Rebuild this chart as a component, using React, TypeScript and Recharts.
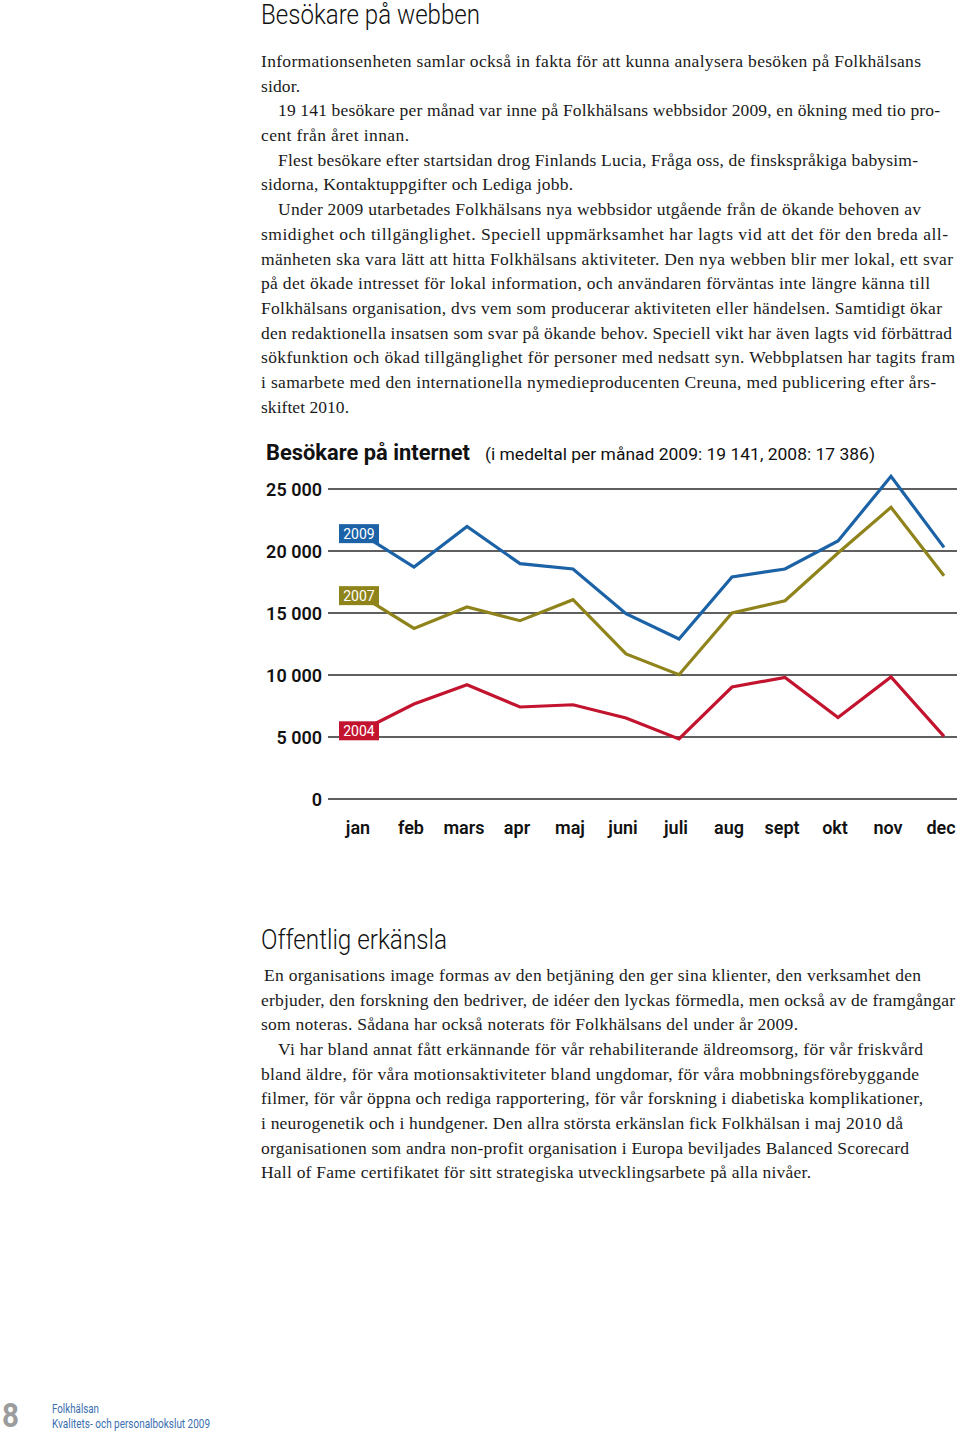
import React from 'react';
import { LineChart, Line, XAxis, YAxis, ReferenceLine, LabelList } from 'recharts';

// ---- chart data ----
const months = ['jan', 'feb', 'mars', 'apr', 'maj', 'juni', 'juli', 'aug', 'sept', 'okt', 'nov', 'dec'];
const visitors2009 = [21400, 18710, 21985, 18980, 18550, 14945, 12900, 17900, 18550, 20810, 26020, 20290];
const visitors2007 = [16400, 13760, 15485, 14380, 16070, 11695, 10025, 15000, 15990, 19840, 23520, 18010];
const visitors2004 = [5500, 7660, 9220, 7420, 7600, 6530, 4840, 9030, 9805, 6580, 9840, 5050];
const yTicks = [0, 5000, 10000, 15000, 20000, 25000];
const seriesNames = ['2009', '2007', '2004'];
const seriesColors = ['#1b62a6', '#8f831b', '#c2142f'];

const data = months.map((m, i) => ({
  month: m,
  v2009: visitors2009[i],
  v2007: visitors2007[i],
  v2004: visitors2004[i],
}));

// ---- page text ----
const heading1 = 'Besökare på webben';
const heading2 = 'Offentlig erkänsla';
const chartTitle = 'Besökare på internet';
const chartSubtitle = '(i medeltal per månad 2009: 19 141,  2008: 17 386)';

type TL = [number, number, number, string];
const para1: TL[] = [
  [261, 62, 921, 'Informationsenheten samlar också in fakta för att kunna analysera besöken på Folkhälsans'],
  [261, 87, 300, 'sidor.'],
  [278, 111, 940, '19 141 besökare per månad var inne på Folkhälsans webbsidor 2009, en ökning med tio pro-'],
  [261, 136, 409, 'cent från året innan.'],
  [278, 161, 918, 'Flest besökare efter startsidan drog Finlands Lucia, Fråga oss, de finskspråkiga babysim-'],
  [261, 185, 573, 'sidorna, Kontaktuppgifter och Lediga jobb.'],
  [278, 210, 921, 'Under 2009 utarbetades Folkhälsans nya webbsidor utgående från de ökande behoven av'],
  [261, 235, 948, 'smidighet och tillgänglighet. Speciell uppmärksamhet har lagts vid att det för den breda all-'],
  [261, 260, 953, 'mänheten ska vara lätt att hitta Folkhälsans aktiviteter. Den nya webben blir mer lokal, ett svar'],
  [261, 284, 930, 'på det ökade intresset för lokal information, och användaren förväntas inte längre känna till'],
  [261, 309, 942, 'Folkhälsans organisation, dvs vem som producerar aktiviteten eller händelsen. Samtidigt ökar'],
  [261, 334, 952, 'den redaktionella insatsen som svar på ökande behov. Speciell vikt har även lagts vid förbättrad'],
  [261, 358, 955, 'sökfunktion och ökad tillgänglighet för personer med nedsatt syn.  Webbplatsen har tagits fram'],
  [261, 383, 936, 'i samarbete med den internationella nymedieproducenten Creuna, med publicering efter års-'],
  [261, 408, 349, 'skiftet 2010.'],
];
const para2: TL[] = [
  [264, 976, 921, 'En organisations image formas av den betjäning den ger sina klienter, den verksamhet den'],
  [261, 1001, 955, 'erbjuder, den forskning den bedriver, de idéer den lyckas förmedla, men också av de framgångar'],
  [261, 1025, 798, 'som noteras. Sådana har också noterats för Folkhälsans del under år 2009.'],
  [278, 1050, 923, 'Vi har bland annat fått erkännande för vår rehabiliterande äldreomsorg, för vår friskvård'],
  [261, 1075, 919, 'bland äldre, för våra motionsaktiviteter bland ungdomar, för våra mobbningsförebyggande'],
  [261, 1099, 923, 'filmer, för vår öppna och rediga rapportering, för vår forskning i diabetiska komplikationer,'],
  [261, 1124, 903, 'i neurogenetik och i hundgener. Den allra största erkänslan fick Folkhälsan i maj 2010 då'],
  [261, 1149, 909, 'organisationen som andra non-profit organisation i Europa beviljades Balanced Scorecard'],
  [261, 1173, 811, 'Hall of Fame certifikatet för sitt strategiska utvecklingsarbete på alla nivåer.'],
];

const CHART_FONT = 'Roboto, "Open Sans", sans-serif';
const SERIF = '"Liberation Serif", "DejaVu Serif", serif';

const fmt = (n: number) =>
  n === 0 ? '0' : `${Math.floor(n / 1000)} ${String(n % 1000).padStart(3, '0')}`;

const YTick = (props: any) => {
  const { x, y, payload } = props;
  return (
    <text x={x - 6} y={y + 6.5} textAnchor="end" fontFamily={CHART_FONT} fontWeight={600} fontSize={18} fill="#111">
      {fmt(payload.value)}
    </text>
  );
};

const XTick = (props: any) => {
  const { x, y, payload } = props;
  return (
    <text x={x - 3} y={y + 35} textAnchor="middle" fontFamily={CHART_FONT} fontWeight={600} fontSize={18} fill="#111">
      {payload.value}
    </text>
  );
};

const makeBadge = (name: string, color: string) => (props: any) => {
  const { x, y, index } = props;
  if (index !== 0) return null;
  const cx = x - 2;
  return (
    <g>
      <rect x={cx - 20} y={y - 9.5} width={40} height={19} fill={color} />
      <text x={cx} y={y + 5} textAnchor="middle" fontFamily={CHART_FONT} fontSize={14} fill="#fff">
        {name}
      </text>
    </g>
  );
};

const TextLine = ({ l }: { l: TL }) => (
  <text
    x={l[0]}
    y={l[1] + 5}
    textLength={l[2] - l[0]}
    lengthAdjust="spacing"
    fontFamily={SERIF}
    fontSize={17.5}
    fill="#1a1a1a"
  >
    {l[3]}
  </text>
);

export default function App() {
  const keys = ['v2009', 'v2007', 'v2004'];
  const order = [2, 1, 0];
  return (
    <div style={{ position: 'absolute', left: 0, top: 0, width: 960, height: 1435, background: '#fff', overflow: 'hidden' }}>
      <div style={{ position: 'absolute', left: 0, top: 0 }}>
        <LineChart
          width={960}
          height={860}
          data={data}
          margin={{ top: 458, right: 3, bottom: 0, left: 0 }}
        >
          <XAxis
            dataKey="month"
            axisLine={false}
            tickLine={false}
            tickSize={0}
            tickMargin={0}
            height={61}
            padding={{ left: 33, right: 13 }}
            tick={<XTick />}
            interval={0}
          />
          <YAxis
            type="number"
            domain={[0, 27500]}
            ticks={yTicks}
            axisLine={false}
            tickLine={false}
            tickSize={0}
            tickMargin={0}
            width={328}
            tick={<YTick />}
            interval={0}
          />
          {yTicks.map((t) => (
            <ReferenceLine key={t} y={t} stroke="#2a2a2a" strokeWidth={1.3} />
          ))}
          {order.map((i) => (
            <Line
              key={keys[i]}
              type="linear"
              dataKey={keys[i]}
              stroke={seriesColors[i]}
              strokeWidth={3.2}
              strokeLinejoin="miter"
              dot={false}
              activeDot={false}
              isAnimationActive={false}
            >
              <LabelList dataKey={keys[i]} content={makeBadge(seriesNames[i], seriesColors[i])} />
            </Line>
          ))}
        </LineChart>
      </div>
      <svg
        width={960}
        height={1435}
        style={{ position: 'absolute', left: 0, top: 0, pointerEvents: 'none' }}
      >
        <text x={261} y={24} textLength={219} lengthAdjust="spacingAndGlyphs" fontFamily={CHART_FONT} fontWeight={300} fontSize={27} fill="#111">
          {heading1}
        </text>
        {para1.map((l, i) => (
          <TextLine key={'a' + i} l={l} />
        ))}
        <text x={266} y={460} textLength={204} lengthAdjust="spacingAndGlyphs" fontFamily={CHART_FONT} fontWeight={700} fontSize={22} fill="#111">
          {chartTitle}
        </text>
        <text x={485} y={460} textLength={390} lengthAdjust="spacingAndGlyphs" fontFamily={CHART_FONT} fontWeight={400} fontSize={17} fill="#111">
          {chartSubtitle}
        </text>
        <text x={261} y={949} textLength={186} lengthAdjust="spacingAndGlyphs" fontFamily={CHART_FONT} fontWeight={300} fontSize={27} fill="#111">
          {heading2}
        </text>
        {para2.map((l, i) => (
          <TextLine key={'b' + i} l={l} />
        ))}
        <text x={2} y={1427} textLength={17} lengthAdjust="spacingAndGlyphs" fontFamily={CHART_FONT} fontWeight={700} fontSize={33} fill="#9c9c9c">
          8
        </text>
        <text x={52} y={1413} textLength={47} lengthAdjust="spacingAndGlyphs" fontFamily={CHART_FONT} fontSize={13} fill="#3b6fb0">
          Folkhälsan
        </text>
        <text x={52} y={1428} textLength={158} lengthAdjust="spacingAndGlyphs" fontFamily={CHART_FONT} fontSize={13} fill="#3b6fb0">
          Kvalitets- och personalbokslut 2009
        </text>
      </svg>
    </div>
  );
}
